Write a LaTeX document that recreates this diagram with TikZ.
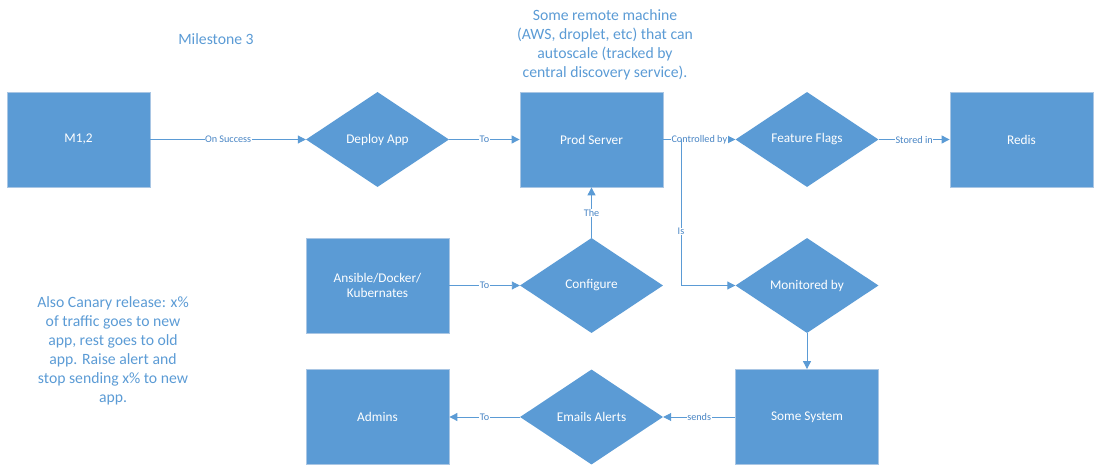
\documentclass[tikz,border=0pt]{standalone}
\usepackage{fontspec}
\setmainfont{Carlito}
\usetikzlibrary{shapes.geometric,arrows.meta}
\definecolor{boxblue}{HTML}{5B9BD5}
\definecolor{boxedge}{HTML}{A9C6E4}
\definecolor{lineblue}{HTML}{5B9BD5}
\definecolor{labelblue}{HTML}{4A86C5}
\definecolor{noteblue}{HTML}{5B9BD5}
\tikzset{
  rectbox/.style={rectangle, fill=boxblue, draw=boxedge, line width=0.8pt,
    minimum width=143pt, minimum height=95pt, inner sep=0pt,
    text=white, font=\fontsize{13.3}{15}\selectfont},
  diabox/.style={diamond, fill=boxblue, draw=none, aspect=1.5,
    minimum width=143pt, minimum height=95pt, inner sep=0pt,
    text=white, font=\fontsize{13.3}{15}\selectfont, align=center},
  conn/.style={draw=lineblue, line width=0.9pt, -{Triangle[length=8pt,width=8pt]}},
  lbl/.style={fill=white, inner sep=0.5pt, text=labelblue, font=\fontsize{10.2}{12}\selectfont},
  note/.style={text=noteblue, align=center, font=\fontsize{15.7}{19}\selectfont}
}
\begin{document}
\begin{tikzpicture}[x=1pt,y=-1pt]
\useasboundingbox (0,0) rectangle (1101,473);

\node[rectbox] (m12) at (78.5,139.5) {M1,2};
\node[diabox] (deploy) at (377.5,139.5) {Deploy App};
\node[rectbox] (prod) at (591.5,139.5) {Prod Server};
\node[diabox] (flags) at (807,139.5) {Feature Flags};
\node[rectbox] (redis) at (1021.5,139.5) {Redis};
\node[rectbox, align=center] (ansible) at (377.5,285.5) {Ansible/Docker/\\Kubernates};
\node[diabox] (config) at (591.5,285.5) {Configure};
\node[diabox] (monitor) at (807,285.5) {Monitored by};
\node[rectbox] (system) at (807,417) {Some System};
\node[diabox] (emails) at (591.5,417) {Emails Alerts};
\node[rectbox] (admins) at (377.5,417) {Admins};

\coordinate (branch) at (681,139.5);

\node[note] (milestone) at (216,39) {Milestone 3};
\node[note] (remote) at (605,45) {Some remote machine\\(AWS, droplet, etc) that can\\autoscale (tracked by\\central discovery service).};
\node[note] (canary) at (113,351) {Also Canary release: x\%\\of traffic goes to new\\app, rest goes to old\\app. Raise alert and\\stop sending x\% to new\\app.};

\draw[conn] (m12) -- node[lbl] {On Success} (deploy);
\draw[conn] (deploy) -- node[lbl] {To} (prod);
\draw[conn] (prod) -- node[lbl] {Controlled by} (flags);
\draw[conn] (flags) -- node[lbl] {Stored in} (redis);
\draw[conn] (branch) -- node[lbl, pos=0.63] {Is} (branch |- monitor) -- (monitor);
\draw[conn] (ansible) -- node[lbl] {To} (config);
\draw[conn] (config) -- node[lbl] {The} (prod);
\draw[conn] (monitor) -- (system);
\draw[conn] (system) -- node[lbl] {sends} (emails);
\draw[conn] (emails) -- node[lbl] {To} (admins);
\end{tikzpicture}
\end{document}
